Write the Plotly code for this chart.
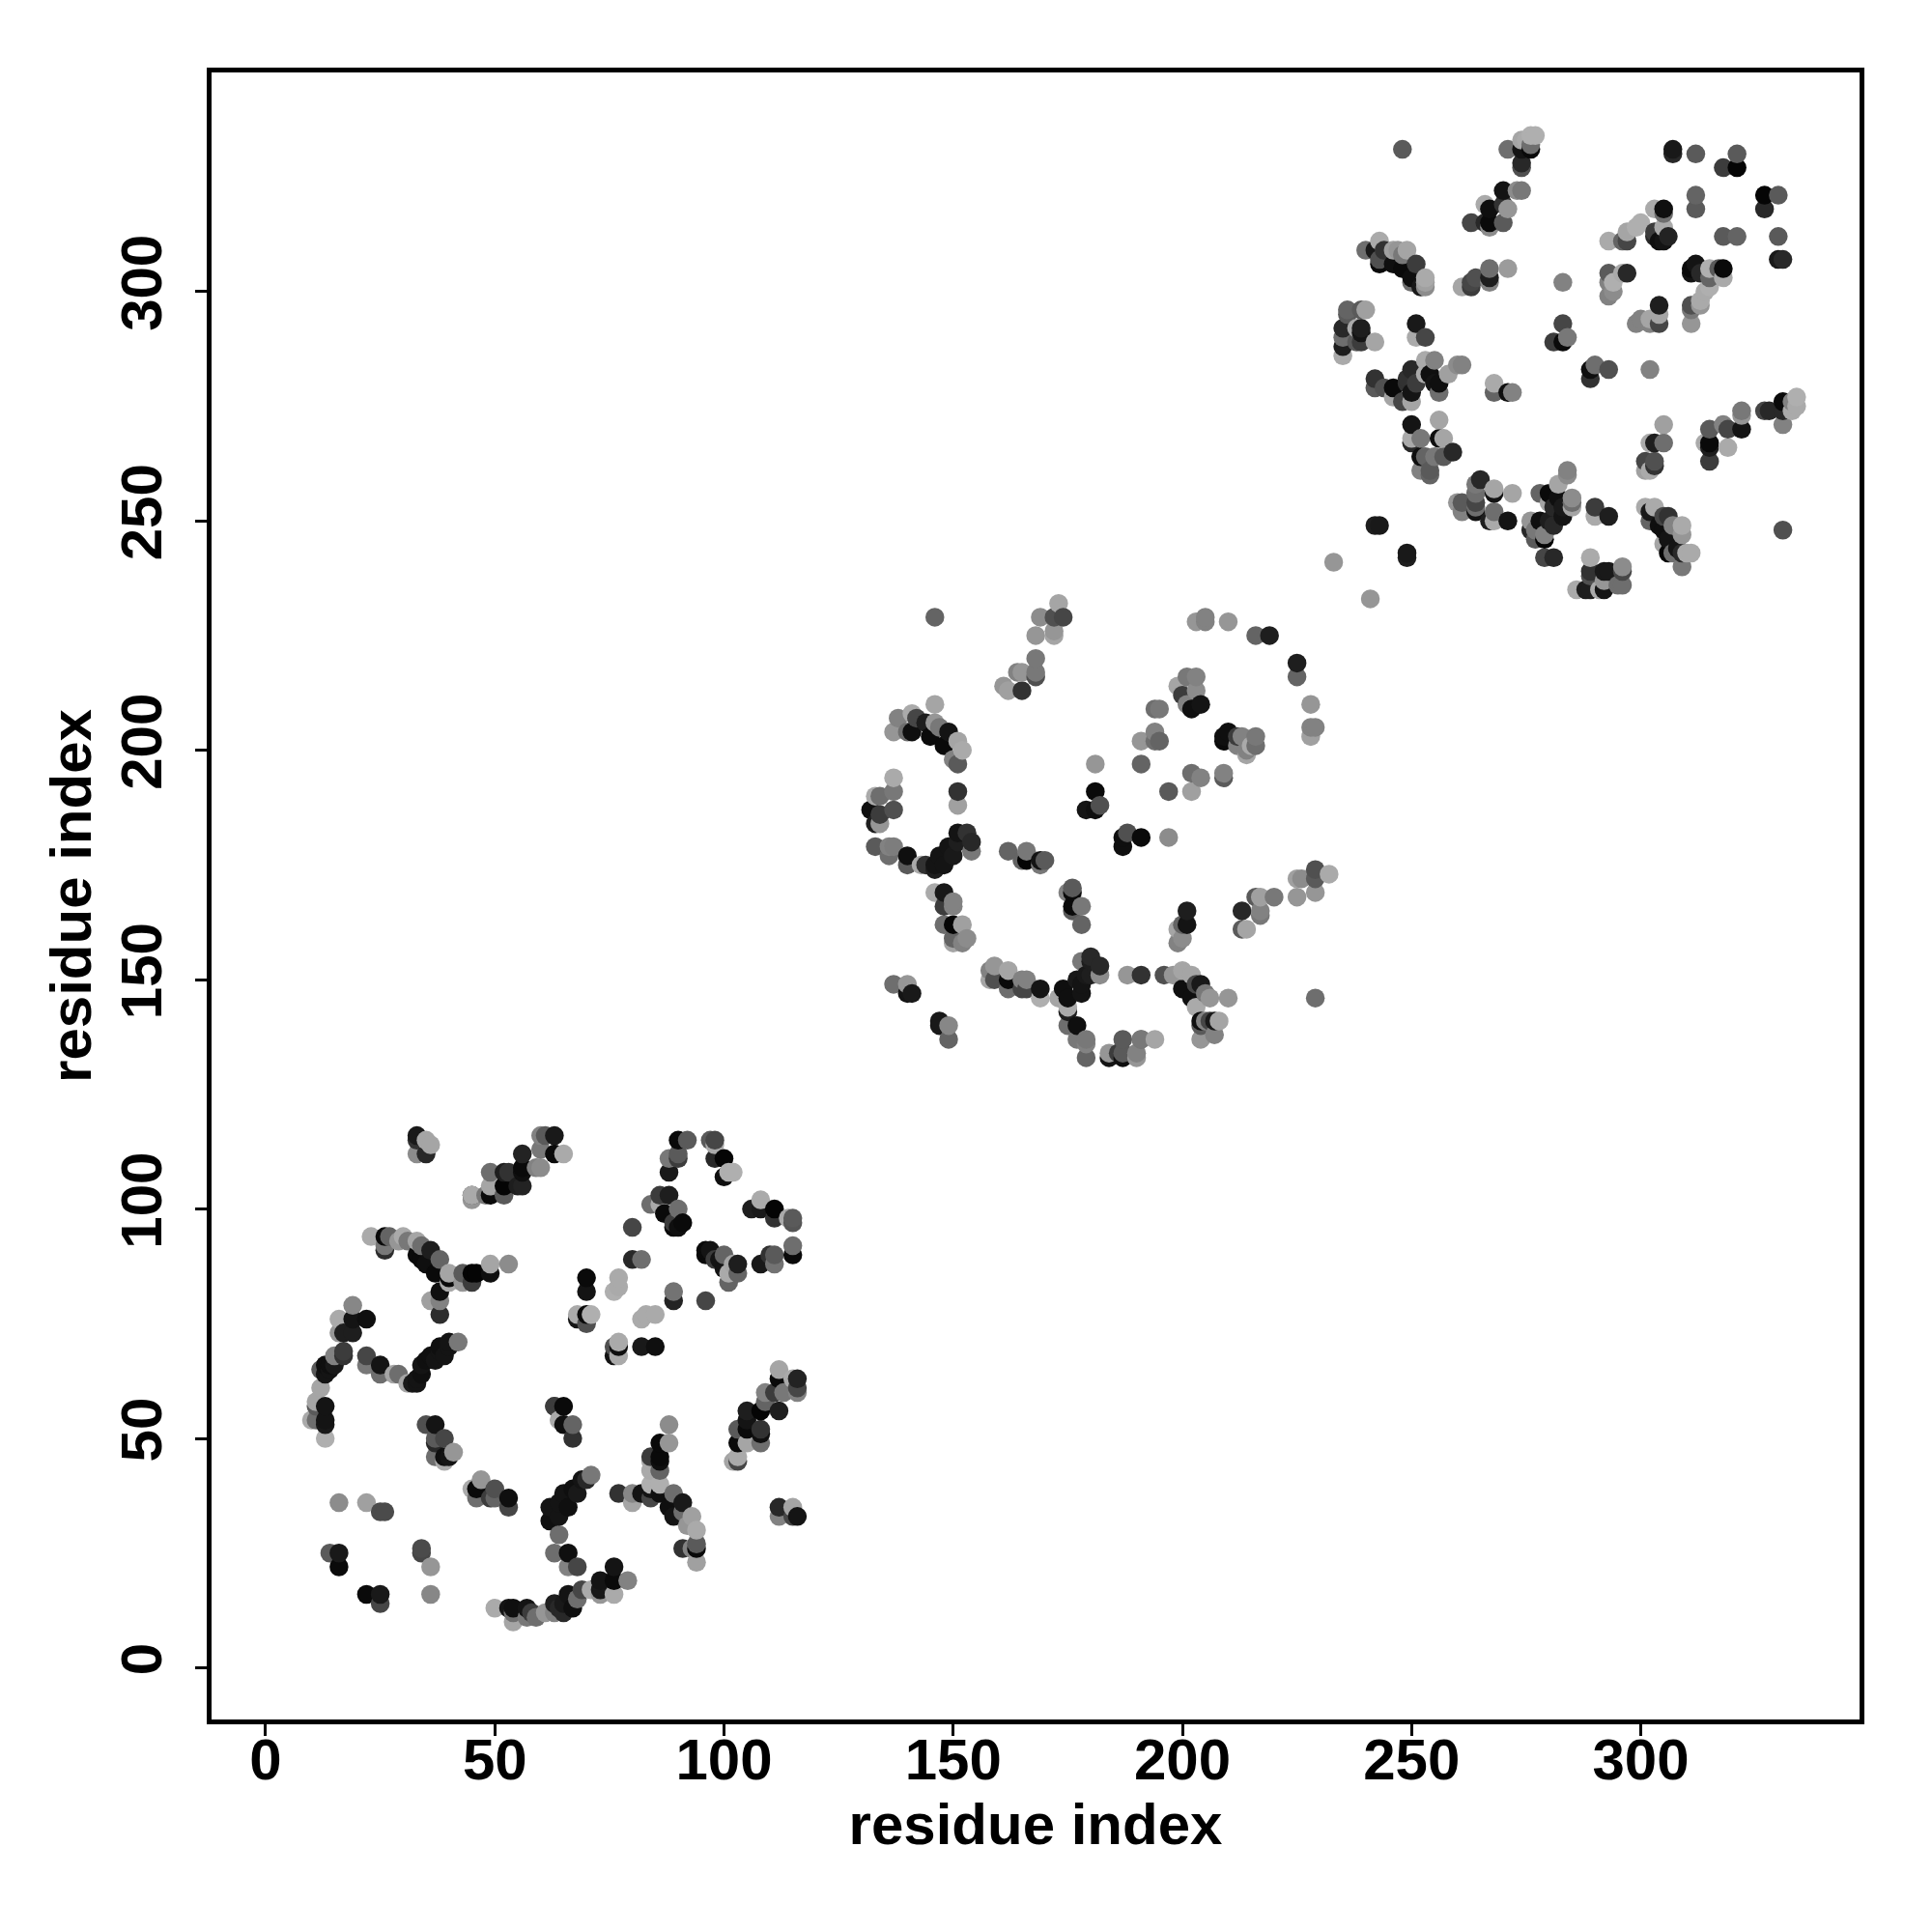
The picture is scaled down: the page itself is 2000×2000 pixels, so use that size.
import plotly.graph_objects as go

# (residue i, residue j, grey level)
domain1_upper = [
(33,116,25),(33,115,50),(33,112,140),(35,112,40),(35,115,165),(36,114,165),
(60,116,130),(61,116,90),(63,116,25),(56,112,35),(60,113,120),(59,109,130),(60,109,140),(63,112,10),(65,112,170),
(56,109,10),(56,108,15),(49,108,110),(52,108,30),(53,108,50),(49,105,165),(52,105,5),(55,105,30),(56,105,35),
(48,103,120),(49,103,10),(52,103,90),(45,103,70),(45,102,150),(45,103,170),
(23,94,170),(26,94,10),(27,94,100),(26,92,120),(26,91,45),(29,93,150),(30,94,170),(31,93,120),(33,93,165),(34,92,110),
(33,90,10),(34,89,10),(35,88,15),(36,91,30),(38,89,100),(37,86,10),(40,84,170),(40,85,10),(40,86,165),(43,84,150),(43,86,90),
(45,84,60),(45,86,5),(46,86,5),(49,86,15),(49,88,165),(53,88,140),(36,80,160),(38,80,130),(38,82,15),(38,77,45),
(19,79,135),(16,76,170),(19,76,20),(22,76,15),(16,73,150),(17,73,30),(19,73,30),
(90,115,10),(92,115,90),(98,114,170),(97,115,90),(98,115,70),(98,111,40),(100,111,5),(100,107,15),(101,108,175),(102,108,175),
(88,111,120),(90,111,60),(90,112,90),(88,108,25),(84,101,110),(86,103,60),(88,103,30),(86,101,170),(87,99,10),(90,100,110),
(89,97,60),(89,96,10),(90,96,15),(91,97,10),(80,96,70),(80,89,40),(82,89,110),(70,85,10),(70,82,20),(76,82,175),(77,83,170),(77,85,170),
(89,80,35),(89,82,115),(96,80,70),(96,91,10),(96,90,10),(97,91,20),(99,89,20),(98,89,60),(100,90,100),(100,87,20),(101,84,100),(101,86,170),
(102,88,165),(103,86,100),(103,88,30),(108,88,25),(111,88,115),(110,90,50),(111,90,90),(115,90,10),(115,92,110),
(106,100,30),(108,100,25),(108,102,170),(111,98,50),(111,100,5),(114,98,170),(115,98,90),(115,97,85),
(68,76,20),(70,75,80),(68,77,170),(70,77,10),(71,77,175),(76,68,20),(77,68,170),(76,70,80),(77,70,15),(77,71,170),(82,70,25),(85,70,15),
(82,76,170),(83,77,170),(85,77,170),
]
domain1_lower = [
(15,68,130),(17,68,50),(17,69,60),(22,68,70),(22,66,120),(25,66,20),(25,64,110),(28,64,165),(29,64,110),
(31,62,165),(32,62,25),(33,62,20),(33,63,20),(34,64,15),(34,66,20),(35,67,15),(36,68,15),(37,67,20),(38,69,20),(38,70,15),(39,68,20),(40,70,20),(40,71,20),(42,71,120),
(12,65,90),(13,66,15),(14,66,15),(15,66,25),(14,65,20),(13,64,20),(12,61,165),(11,58,165),(11,57,90),(13,57,20),(10,54,170),(11,54,110),(13,53,25),(13,54,20),(13,50,175),
(35,53,80),(37,53,20),(37,49,40),(37,50,90),(39,50,70),(39,45,170),(37,46,110),(39,46,15),(40,46,20),(41,47,150),
(45,39,170),(46,37,110),(46,39,10),(47,41,150),(49,37,60),(50,37,100),(50,39,80),(53,35,70),(53,37,15),
(63,57,80),(63,57,60),(65,57,10),(64,54,170),(65,53,15),(67,53,100),(67,50,50),
(16,36,140),(22,36,160),(25,34,75),(26,34,75),(14,25,90),(16,25,25),(16,22,10),(34,26,75),(34,25,70),(36,22,150),
(25,14,70),(22,16,10),(25,16,25),(36,16,135),(50,13,170),(53,13,20),(54,10,165),(54,12,110),(54,13,15),(57,11,120),(59,11,110),(57,13,20),(58,12,60),(61,12,150),(63,12,130),(64,13,40),(63,14,30),
(71,42,120),(70,41,40),(69,41,20),(68,38,25),(67,39,15),(65,38,20),(66,35,15),(64,36,20),(62,35,20),(64,33,20),(62,32,15),(64,29,110),(63,25,110),(66,25,15),(66,22,130),(68,22,70),
(65,14,25),(65,12,40),(66,16,20),(67,13,15),(68,15,110),(69,17,70),(71,17,170),(73,16,150),(73,17,25),(73,19,20),(76,16,170),(76,19,10),(76,22,20),(79,19,130),
(88,53,140),(86,49,10),(88,49,150),(84,46,60),(86,46,10),(86,45,15),(84,45,170),(84,43,170),(86,43,100),(84,40,175),(86,40,175),(77,38,50),(80,36,165),(80,38,135),(82,38,20),
(84,37,70),(84,39,20),(86,38,15),(89,38,110),(88,35,15),(91,36,25),(89,33,20),(91,34,110),(93,33,160),(92,31,150),(94,30,170),(91,26,50),(93,26,130),(94,26,10),(94,27,90),(94,23,160),
(112,65,165),(112,63,10),(115,63,170),(116,60,130),(116,61,70),(116,63,35),(109,58,100),(109,60,130),(111,60,60),(113,60,120),(112,56,30),(108,56,5),(105,54,20),(105,56,30),
(108,52,50),(108,51,15),(105,52,10),(103,52,90),(108,49,110),(103,49,10),(105,49,165),(103,45,70),(102,45,165),(103,46,170),
(112,33,130),(112,35,40),(115,35,165),(115,33,70),(116,33,20),
]
domain2_upper = [
(146,229,100),(173,232,165),(169,229,140),(172,229,80),(174,229,70),(172,225,165),(172,226,150),(168,225,150),(168,216,80),(168,217,120),(168,220,120),(164,217,130),(165,217,150),(165,213,50),(162,213,160),(161,214,150),
(146,210,165),(138,207,130),(141,208,170),(137,204,150),(140,204,110),(141,204,15),(142,207,70),(144,206,30),(145,203,10),(146,206,150),(147,205,120),(149,204,20),(148,201,10),(151,197,90),(150,198,130),(151,202,165),(152,200,170),
(151,191,50),(151,188,160),(137,194,170),(133,190,170),(134,190,110),(137,191,120),(132,187,15),(134,186,60),(137,187,80),(133,184,30),(134,184,150),
(133,179,90),(136,177,110),(136,179,130),(137,179,125),(140,175,90),(140,177,15),
(154,178,120),(151,182,20),(151,180,30),(149,179,20),(150,177,25),(147,177,20),(148,175,20),(146,175,20),(146,174,30),(143,175,170),(144,175,50),(153,182,50),(154,180,40),
(162,178,100),(165,176,100),(166,178,120),(166,176,5),(169,175,120),(169,176,20),(170,176,90),
(203,228,150),(205,228,130),(205,229,130),(210,228,150),(216,225,100),(219,225,30),(225,216,100),(225,219,30),(228,210,150),(228,203,160),(228,205,130),(229,205,130),
(199,214,165),(200,212,60),(201,210,130),(202,209,15),(204,210,20),(201,216,120),(203,216,130),(203,213,140),(194,209,110),(195,209,120),(191,202,150),(194,204,130),(194,202,110),(195,202,100),
(181,197,150),(191,197,100),(181,191,10),(179,187,20),(181,187,15),(182,188,80),(187,179,15),(187,181,15),(188,182,80),(191,181,10),(197,181,140),
(197,191,90),(202,191,160),(202,195,110),(204,194,130),(209,194,90),(209,195,130),
(209,202,10),(209,203,15),(210,204,15),(212,203,60),(213,203,130),(214,199,165),(214,200,130),(212,201,130),(215,201,170),(216,201,110),(216,203,120),
]
domain2_lower = [
(146,169,170),(148,169,25),(148,166,60),(150,167,130),(150,166,130),(148,162,110),(150,162,5),(152,162,160),(150,158,165),(150,159,100),(152,158,130),(153,159,140),
(137,149,110),(140,149,150),(140,147,20),(141,147,25),(147,141,25),(147,140,25),(149,140,135),(149,137,100),
(175,169,130),(176,170,90),(176,169,10),(176,165,90),(176,166,10),(178,166,120),(178,162,100),
(158,152,130),(159,153,150),(158,150,165),(159,150,80),(162,148,110),(162,150,10),(162,152,165),(165,148,70),(166,148,70),(165,150,130),(166,150,130),(169,146,175),(169,148,20),
(173,146,165),(175,144,170),(175,143,30),(174,148,15),(175,146,15),(177,150,25),(178,154,120),(178,147,20),(178,149,20),(179,151,25),(180,151,30),(180,155,40),(182,151,140),(182,153,40),(180,154,30),
(175,140,110),(177,140,15),(177,137,120),(179,137,120),(179,136,130),(179,133,100),
(188,151,150),(191,151,50),(187,137,90),(191,137,110),(191,137,120),(194,137,165),
(184,134,150),(184,133,20),(186,134,60),(187,133,15),(187,134,90),(190,133,150),(190,134,130),
(201,165,30),(200,162,100),(201,162,20),(199,161,165),(199,158,130),(200,159,140),
(196,151,80),(198,151,150),(200,152,165),(202,151,165),(200,148,15),(203,149,70),(204,149,25),(202,146,15),(205,147,120),(206,146,150),(210,146,150),
(203,144,170),(204,140,90),(204,141,15),(205,141,130),(206,141,70),(207,141,25),(208,141,165),(204,137,150),(207,138,130),
(213,165,40),(216,168,90),(217,168,160),(220,168,120),(217,164,120),(217,165,130),(213,161,90),(214,161,165),
(225,168,150),(225,172,160),(226,172,140),(229,169,150),(229,174,80),(229,172,90),(232,173,170),(229,146,110),
]
domain3_upper = [
(248,331,90),(271,331,110),(274,333,165),(274,331,20),(276,331,10),(276,332,110),(275,333,170),(276,334,175),(277,334,175),(274,327,80),(274,328,40),
(270,322,20),(273,322,140),(274,322,120),(266,319,170),(270,319,50),(267,318,15),(271,318,150),(263,315,70),(267,314,140),(266,315,40),(267,315,10),(270,315,90),
(240,309,110),(243,311,170),(242,309,25),(243,306,10),(243,307,80),(244,309,50),(246,306,15),(246,309,160),(247,309,150),(248,305,10),(248,308,120),(249,309,165),(251,306,60),
(250,302,110),(250,303,15),(252,301,25),(253,301,140),(253,302,160),(253,303,170),
(261,301,165),(263,302,70),(263,301,60),(264,303,80),(267,302,130),(267,303,30),(267,305,110),(271,305,155),(283,302,130),
(281,289,60),(283,289,10),(283,293,70),(284,290,120),
(236,295,90),(236,296,100),(235,292,40),(235,290,110),(235,286,170),(235,288,30),(238,292,170),(239,291,20),(239,292,30),(239,296,90),(240,296,160),(238,289,90),(239,289,60),(242,289,165),
(251,290,170),(251,293,25),(253,290,70),
(242,279,90),(242,281,50),(244,279,80),(246,277,165),(246,279,10),(248,276,70),(250,276,165),(250,278,20),(249,280,50),(251,280,60),(249,281,50),(250,283,40),(253,285,170),(253,282,170),(254,282,15),
(255,280,20),(255,285,130),(256,278,110),(256,280,15),(258,282,160),(260,284,140),(261,284,130),
(268,278,100),(268,280,170),(271,278,15),(272,278,130),
(307,331,25),(307,330,40),(312,330,90),(321,330,90),(318,327,60),(321,327,5),(312,318,90),(312,321,100),(327,318,40),(327,321,5),(330,321,90),
(318,312,90),(321,312,100),(330,312,90),(330,307,25),(331,307,40),
(293,311,170),(296,311,100),(297,311,70),(297,313,165),(299,314,175),(300,315,175),(303,312,40),(303,313,60),(303,318,170),(305,317,110),(305,318,15),(305,314,170),(304,311,15),(305,311,20),(306,312,35),
(293,302,130),(293,299,130),(294,300,140),(293,304,90),(296,304,170),(294,302,175),(297,304,40),
(311,305,10),(311,304,20),(312,306,20),(313,304,40),(315,303,100),(318,303,170),(315,305,175),(317,305,90),(318,305,10),(315,301,175),(314,300,170),(311,296,120),(311,297,80),(313,297,150),(313,298,170),(311,293,150),
(304,293,70),(304,295,165),(304,297,30),(299,293,130),(300,294,130),(302,293,130),(302,294,165),(302,283,130),
(289,281,50),(289,283,15),(290,284,110),(293,283,80),
]
domain3_lower = [
(250,267,40),(250,268,170),(250,271,20),(252,268,120),(256,272,165),(256,268,15),(257,268,165),
(252,261,130),(254,260,100),(254,261,90),(252,264,15),(253,264,100),(255,264,120),(257,264,90),(259,265,40),
(264,258,120),(264,256,110),(265,259,40),(268,256,20),(268,257,165),(272,256,165),
(260,254,150),(261,252,130),(261,254,90),(264,252,20),(264,253,110),(264,254,70),(267,250,30),(268,250,170),(268,252,110),(271,250,20),
(284,260,140),(284,261,130),(282,258,165),(278,256,100),(280,254,165),(280,256,10),(282,255,15),(285,253,165),(285,254,110),(283,253,25),(281,253,40),(285,255,140),(283,251,20),
(276,250,150),(278,250,15),(280,250,30),(281,249,40),(276,248,40),(277,248,120),(279,247,130),(277,246,90),(279,246,5),(279,242,70),(281,242,40),
(242,249,30),(243,249,25),(249,243,25),(249,242,30),(233,241,150),(241,233,150),
(305,271,160),(302,267,170),(303,267,30),(305,267,110),(301,261,160),(302,261,170),(301,263,70),(303,262,50),(303,263,80),
(315,270,90),(318,271,130),(319,270,70),(322,273,150),(322,274,120),(322,270,20),(314,267,170),(315,266,30),(315,267,10),(319,266,170),(315,263,60),
(327,274,70),(328,274,40),(331,271,130),(331,274,40),(331,276,10),(333,276,130),(333,274,170),(334,275,170),(334,277,175),(331,248,80),
(290,251,170),(290,253,60),(293,251,30),
(301,253,170),(303,253,170),(302,252,25),(302,250,100),(304,249,15),(305,251,70),(306,251,50),(305,248,15),(306,246,20),(307,249,130),(309,247,150),(309,249,170),(305,245,165),
(306,243,5),(307,243,110),(308,244,20),(309,240,120),(309,243,40),(310,243,170),(311,243,170),
(289,242,170),(289,238,80),(289,239,50),(292,239,25),(293,239,25),(296,239,70),(296,240,140),
(286,235,170),(288,235,30),(289,235,30),(291,235,170),(292,235,20),(292,237,150),(295,236,110),(296,236,110),
]
tick_values = [0, 50, 100, 150, 200, 250, 300]
axis_title = "residue index"

# drawn in residue order, so later residues overlap earlier ones as in the reference
points = sorted(domain1_upper + domain1_lower + domain2_upper + domain2_lower + domain3_upper + domain3_lower,
                key=lambda p: (p[0], p[1]))
xs = [p[0] for p in points]
ys = [p[1] for p in points]
colours = [f"rgb({p[2]},{p[2]},{p[2]})" for p in points]

fig = go.Figure(go.Scatter(x=xs, y=ys, mode="markers",
                           marker=dict(size=19.5, color=colours, line=dict(width=0)),
                           hoverinfo="skip", showlegend=False))
tick_font = dict(family="Liberation Sans", size=60, color="black", weight="bold")
title_font = dict(family="Liberation Sans", size=60, color="black", weight="bold")
axis = dict(tickvals=tick_values, ticks="outside", ticklen=12, tickwidth=2.5, tickcolor="black",
            showgrid=False, zeroline=False, showline=True, mirror=True, linewidth=5, linecolor="black",
            tickfont=tick_font)
xa = dict(axis); ya = dict(axis)
xa.update(range=[-11.80, 347.73], ticklabelstandoff=-27,
          title=dict(text=axis_title, font=title_font, standoff=13))
ya.update(range=[-11.27, 347.76], tickangle=-90, ticklabelstandoff=11,
          title=dict(text=axis_title, font=title_font, standoff=1))
fig.update_layout(width=2000, height=2000, autosize=False, paper_bgcolor="white", plot_bgcolor="white",
                  margin=dict(l=211, r=83, t=67, b=228, autoexpand=False),
                  xaxis=xa, yaxis=ya)
fig.write_html("out.html")
